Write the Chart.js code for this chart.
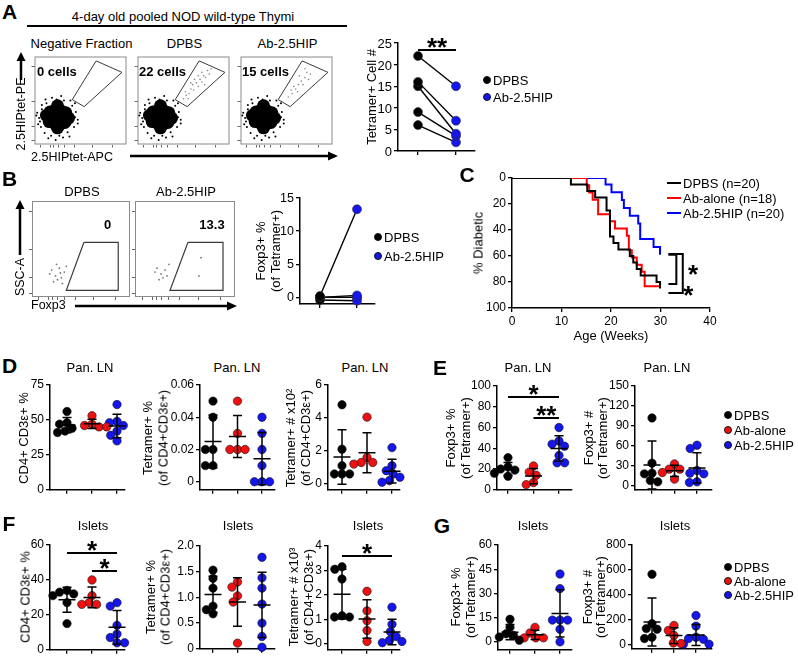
<!DOCTYPE html>
<html><head><meta charset="utf-8"><title>Figure</title>
<script src="https://cdn.jsdelivr.net/npm/chart.js@4.4.1/dist/chart.umd.min.js"></script>
<style>
html,body{margin:0;padding:0;background:#fff;}
#root{position:relative;width:798px;height:664px;overflow:hidden;background:#fff;font-family:"Liberation Sans",Arial,Helvetica,sans-serif;color:#000;}
#root canvas{position:absolute;}
.t{position:absolute;white-space:nowrap;line-height:1;}
#deco{position:absolute;left:0;top:0;}
</style></head>
<body><div id="root"></div>
<script>
/* ================= DATA ================= */
const groups = ['DPBS', 'Ab-alone', 'Ab-2.5HIP'];
const pairGroups = ['DPBS', 'Ab-2.5HIP'];

// Panel A, paired tetramer+ cell numbers
const tetCellDPBS = [22, 16, 15, 9, 6];
const tetCellAb = [15, 7, 4, 3.5, 2];
const tetCellTicks = [0, 5, 10, 15, 20, 25];

// Panel B, paired Foxp3+ % of tetramer+
const foxpPairDPBS = [0.2, 0, -0.4, 0, 0];
const foxpPairAb = [13.3, 0.3, -0.5, 0, 0];
const foxpPairTicks = [0, 5, 10, 15];

// Panel A flow events (display units 0-100)
const flowBlobCore = [[25,31],[18,31],[32,31],[13,33],[37,30],[21,38],[29,38],[22,24],[29,24],[25,44],[25,19],[16,26],[34,36],[17,37],[33,25]];
const flowBlobDots = [[5,30],[7,20],[8,40],[11,13],[13,47],[18,10],[24,51],[27,10],[32,50],[36,14],[41,44],[44,31],[43,20],[3,36],[6,26],[38,9],[19,53],[29,55],[45,37],[4,23],[8,45],[31,8],[47,28],[15,7],[2,33],[39,50],[47,24],[44,47],[12,51],[23,5]];
const gateA = [[67,95],[95,82],[54,43],[41,51],[67,95]];
const gateCellsDPBS = [[50,52],[53,56],[56,58],[58,63],[61,62],[60,68],[64,70],[66,66],[68,74],[70,71],[72,78],[74,76],[70,82],[76,84],[78,80],[66,78],[62,74],[55,52],[52,60],[58,70],[73,68],[80,86]];
const gateCellsAb = [[52,54],[56,58],[60,63],[63,68],[66,72],[70,76],[64,78],[72,82],[58,66],[68,68],[76,80],[62,60],[55,62],[70,86],[74,74]];
const flowTicksX = [7, 17, 21, 26, 33, 44, 63, 85];
const flowTicksY = [4, 20, 49, 89];

// Panel B flow events
const gateB = [[53,57],[88,57],[88,7],[35,7],[53,57]];
const sscDotsDPBS = [[20,28],[24,22],[28,30],[30,20],[26,18],[33,26],[22,16],[18,24],[35,32],[29,25],[25,34],[31,14]];
const sscDotsAb = [[22,30],[26,24],[30,28],[28,20],[34,34],[24,18],[32,22],[20,26]];
const sscGateAb = [[66,41],[64,22]];

// Panel C, cumulative diabetes incidence (%)
const survWeeksDPBS = [0, 11.9, 15.2, 16.8, 19.1, 19.8, 20.5, 21.5, 23.8, 24.5, 25.2, 26, 29.2, 29.9];
const survPctDPBS   = [0, 5, 10, 15, 25, 45, 50, 55, 60, 65, 70, 75, 80, 85];
const survWeeksAlone = [0, 15.1, 15.6, 16.3, 17.4, 19.8, 20.8, 23.2, 23.6, 24.2, 25.2, 26.2, 26.8, 29.8];
const survPctAlone   = [0, 5.6, 11.1, 16.7, 27.8, 33.3, 38.9, 44.4, 55.6, 61.1, 66.7, 72.2, 83.3, 83.3];
const survWeeksHIP = [0, 18.9, 20.1, 22.2, 22.6, 23.8, 25.5, 25.9, 28.6, 29.9];
const survPctHIP   = [0, 5, 11, 17, 23, 29, 35, 47, 53, 59];
const survLabels = ['DPBS (n=20)', 'Ab-alone (n=18)', 'Ab-2.5HIP (n=20)'];
const survXTicks = [0, 10, 20, 30, 40];
const survYTicks = [0, 20, 40, 60, 80, 100];

// Panel D (Pan. LN)
const panCd4 = [[56, 48, 47, 44, 42, 41], [53, 47, 46, 45, 45], [61, 49, 48, 46, 42, 39, 35]];
const panTetPct = [[0.05, 0.04, 0.02, 0.02, 0.01, 0.01], [0.05, 0.03, 0.02, 0.02, 0.02], [0.04, 0.03, 0.02, 0.01, 0, 0, 0]];
const panTetNum = [[4.8, 2.1, 1.1, 0.6, 0.6, 0.6], [4.05, 1.6, 1.3, 1.3, 1.2], [2.2, 1.1, 0.8, 0.6, 0.4, 0.2, 0.1]];
// Panel E (Pan. LN)
const panFoxpPct = [[31, 22, 20, 19, 16, 13], [23, 17, 14, 7, 5], [60, 47, 44, 42, 33, 26, 26]];
const panFoxpNum = [[102, 34, 19, 18, 8, 6], [33, 25, 25, 20, 10], [61, 56, 23, 19, 18, 6, 5]];
// Panel F (Islets)
const isCd4 = [[34, 33, 32, 31, 27, 15], [40, 31, 27, 26, 26], [27, 25, 14, 9, 7, 4, 4]];
const isTetPct = [[1.53, 1.37, 1.18, 0.83, 0.76, 0.68], [1.3, 1.2, 1.03, 0.91, 0.11], [1.78, 1.38, 1.18, 0.87, 0.5, 0.24, 0.03]];
const isTetNum = [[3.15, 3.05, 2.65, 1.15, 1.1, 1.1], [2.15, 1.35, 0.95, 0.55, 0.1], [1.5, 0.8, 0.5, 0.3, 0.15, 0.1, 0.05]];
// Panel G (Islets)
const isFoxpPct = [[14, 9, 5, 4, 3, 1], [9, 5.5, 2.5, 2.5, 2.5], [42, 33, 13.5, 13.5, 13.5, 7.8, 0]];
const isFoxpNum = [[565, 170, 130, 125, 60, 50], [155, 115, 75, 15, 10], [235, 150, 60, 50, 45, 5, 5]];

// y tick values / labels
const ticksCd4Pan = [0, 25, 50, 75];
const ticksTetPctPan = [0, 0.02, 0.04, 0.06];
const labelsTetPctPan = ['0', '0.02', '0.04', '0.06'];
const ticksTetNumPan = [0, 2, 4, 6];
const ticksFoxpPctPan = [0, 20, 40, 60, 80, 100];
const ticksFoxpNumPan = [0, 30, 60, 90, 120, 150];
const ticksCd4Is = [0, 20, 40, 60];
const ticksTetPctIs = [0, 0.5, 1, 1.5, 2];
const labelsTetPctIs = ['0', '0.5', '1.0', '1.5', '2.0'];
const ticksTetNumIs = [0, 1, 2, 3, 4];
const ticksFoxpPctIs = [0, 15, 30, 45, 60];
const ticksFoxpNumIs = [0, 200, 400, 600, 800];

/* ================= STYLE / HELPERS ================= */
const COLORS = ['#000000', '#ee1111', '#1515ee'];
const LINECOLORS = ['#000000', '#ff0000', '#0000ff'];
const FONT = '"Liberation Sans", Arial, Helvetica, sans-serif';
const root = document.getElementById('root');
Chart.defaults.font.family = FONT;
Chart.defaults.color = '#000';

function make(box, m, cfg) {
  const [l, t, r, b] = box;
  const w = (r - l) + m[0] + m[2], h = (b - t) + m[1] + m[3];
  const c = document.createElement('canvas');
  c.width = w; c.height = h;
  c.style.left = (l - m[0]) + 'px'; c.style.top = (t - m[1]) + 'px';
  c.style.width = w + 'px'; c.style.height = h + 'px';
  root.appendChild(c);
  const o = cfg.options = cfg.options || {};
  o.responsive = false; o.maintainAspectRatio = false; o.animation = false;
  o.devicePixelRatio = 1; o.events = [];
  o.layout = { padding: { left: 0, top: m[1], right: m[2], bottom: 0 } };
  o.plugins = Object.assign({ legend: { display: false }, tooltip: { enabled: false }, title: { display: false } }, o.plugins || {});
  o.scales.x.afterFit = s => { s.height = m[3]; };
  o.scales.y.afterFit = s => { s.width = m[0]; };
  const ch = new Chart(c, cfg);
  ch.$origin = [l - m[0], t - m[1]];
  return ch;
}

function axis(pos, min, max, tickVals, labels, size, extra) {
  return Object.assign({
    type: 'linear', position: pos, min: min, max: max,
    afterBuildTicks: s => { s.ticks = tickVals.map(v => ({ value: v })); },
    ticks: { display: !!labels, callback: (v, i) => labels ? labels[i] : '', font: { size: size || 12 }, color: '#000', padding: 2, maxRotation: 0, autoSkip: false },
    grid: { display: true, drawOnChartArea: false, drawTicks: true, tickLength: 4, color: '#000', lineWidth: 1.3 },
    border: { display: true, color: '#000', width: 1.5 }
  }, extra || {});
}

function meanSd(a) {
  const n = a.length, mu = a.reduce((s, v) => s + v, 0) / n;
  const sd = Math.sqrt(a.reduce((s, v) => s + (v - mu) * (v - mu), 0) / (n - 1));
  return [mu, sd];
}

// deterministic beeswarm layout (pixel space)
function swarm(vals, cat, yPx, xPx, D) {
  const order = vals.map((v, i) => i).sort((a, b) => vals[b] - vals[a]);
  const placed = [], out = [];
  order.forEach(i => {
    const y = vals[i] * yPx, ivs = [];
    placed.forEach(p => { const dy = Math.abs(p.y - y); if (dy < D) { const hh = Math.sqrt(D * D - dy * dy); ivs.push([p.x - hh, p.x + hh]); } });
    const cands = [0]; ivs.forEach(iv => cands.push(iv[0], iv[1]));
    cands.sort((a, b) => Math.abs(a) - Math.abs(b));
    const x = cands.find(c => ivs.every(iv => c <= iv[0] + 1e-9 || c >= iv[1] - 1e-9));
    placed.push({ x: x, y: y });
    out.push({ x: cat + x / xPx, y: vals[i] });
  });
  return out;
}

function errPlugin(series) {
  return { id: 'errbars', afterDatasetsDraw(chart) {
    const ctx = chart.ctx, xs = chart.scales.x, ys = chart.scales.y;
    ctx.save(); ctx.strokeStyle = '#000'; ctx.lineWidth = 1.5;
    series.forEach((vals, g) => {
      const [mu, sd] = meanSd(vals), x = xs.getPixelForValue(g);
      const y0 = ys.getPixelForValue(mu), y1 = ys.getPixelForValue(mu + sd), y2 = ys.getPixelForValue(mu - sd);
      ctx.beginPath();
      ctx.moveTo(x - 8.5, y0); ctx.lineTo(x + 8.5, y0);
      ctx.moveTo(x, y1); ctx.lineTo(x, y2);
      ctx.moveTo(x - 4.5, y1); ctx.lineTo(x + 4.5, y1);
      ctx.moveTo(x - 4.5, y2); ctx.lineTo(x + 4.5, y2);
      ctx.stroke();
    });
    ctx.restore();
  } };
}

function sigPlugin(list) {
  return { id: 'sig', afterDatasetsDraw(chart) {
    if (!list || !list.length) return;
    const ctx = chart.ctx, xs = chart.scales.x, ys = chart.scales.y;
    ctx.save(); ctx.strokeStyle = '#000'; ctx.fillStyle = '#000'; ctx.lineWidth = 2;
    ctx.font = 'bold 26px ' + FONT; ctx.textAlign = 'center'; ctx.textBaseline = 'alphabetic';
    list.forEach(s => {
      const x1 = xs.getPixelForValue(s[0]), x2 = xs.getPixelForValue(s[1]), y = Math.round(ys.getPixelForValue(s[2]));
      ctx.beginPath(); ctx.moveTo(x1, y); ctx.lineTo(x2, y); ctx.stroke();
      ctx.fillText(s[3], (x1 + x2) / 2, y + 6);
    });
    ctx.restore();
  } };
}

function dotPlot(box, cats, yMin, yMax, tickVals, tickLabels, series, sig) {
  const [l, t, r, b] = box;
  const xPx = (cats[2] - cats[0]) / 2;
  const xMin = -(cats[0] - l) / xPx, xMax = 2 + (r - cats[2]) / xPx;
  const yPx = (b - t) / (yMax - yMin);
  const datasets = series.map((vals, g) => ({
    label: groups[g], data: swarm(vals, g, yPx, xPx, 7.6),
    pointRadius: 4.2, pointBackgroundColor: COLORS[g], pointBorderColor: '#111', pointBorderWidth: 0.6,
    showLine: false, clip: false
  }));
  return make(box, [36, 16, 8, 8], {
    type: 'scatter', data: { datasets: datasets },
    options: { scales: {
      x: axis('bottom', xMin, xMax, [0, 1, 2], null),
      y: axis('left', yMin, yMax, tickVals, tickLabels || tickVals.map(String), 12)
    } },
    plugins: [errPlugin(series), sigPlugin(sig)]
  });
}

// paired before/after plot; y title drawn by Chart.js, tick labels placed from the chart's y scale
function pairedPlot(box, cats, yMin, yMax, tickVals, left, right, tickSize, sig, title, marginL, titlePad) {
  const xPx = cats[1] - cats[0];
  const xMin = -(cats[0] - box[0]) / xPx, xMax = 1 + (box[2] - cats[1]) / xPx;
  const datasets = left.map((v, i) => ({
    label: 'pair ' + (i + 1), data: [{ x: 0, y: v }, { x: 1, y: right[i] }],
    showLine: true, borderColor: '#000', borderWidth: 1.4,
    pointRadius: 4.5, pointBackgroundColor: [COLORS[0], COLORS[2]], pointBorderColor: '#333', pointBorderWidth: 0.6, clip: false
  }));
  const ch = make(box, [marginL, 14, 8, 8], {
    type: 'scatter', data: { datasets: datasets },
    options: { scales: {
      x: axis('bottom', xMin, xMax, [0, 1], null),
      y: axis('left', yMin, yMax, tickVals, null, tickSize, {
        title: { display: true, text: title, color: '#000', font: { size: 13, lineHeight: 1.2 }, padding: { top: titlePad, bottom: 0 } }
      })
    } },
    plugins: [sigPlugin(sig)]
  });
  const ys = ch.scales.y;
  ys.ticks.forEach(tk => {
    T(String(tk.value), ch.$origin[0] + ys.right - 6, ch.$origin[1] + ys.getPixelForValue(tk.value), { size: tickSize, align: 'right' });
  });
  return ch;
}

const framePlugin = { id: 'frame', beforeDatasetsDraw(chart) {
  const a = chart.chartArea, ctx = chart.ctx;
  ctx.save(); ctx.strokeStyle = '#8a8a8a'; ctx.lineWidth = 1;
  ctx.strokeRect(a.left + 0.5, a.top + 0.5, a.right - a.left - 1, a.bottom - a.top - 1);
  ctx.restore();
} };

function flowAxis(pos, ticks) {
  return {
    type: 'linear', position: pos, min: 0, max: 100,
    afterBuildTicks: s => { s.ticks = ticks.map(v => ({ value: v })); },
    ticks: { display: false },
    grid: { display: true, drawOnChartArea: false, drawTicks: true, tickLength: 3, color: '#666', lineWidth: 1 },
    border: { display: false }
  };
}
const pts = arr => arr.map(p => ({ x: p[0], y: p[1] }));

function flowPlot(box, datasets) {
  return make(box, [4, 2, 2, 4], {
    type: 'scatter', data: { datasets: datasets },
    options: { scales: { x: flowAxis('bottom', flowTicksX), y: flowAxis('left', flowTicksY) } },
    plugins: [framePlugin]
  });
}
function blobSets(gateCells) {
  const s = [
    { label: 'gate', data: pts(gateA), showLine: true, borderColor: '#3a3a3a', borderWidth: 1, pointRadius: 0, clip: false },
    { label: 'core', data: pts(flowBlobCore), pointRadius: 6.5, pointBackgroundColor: '#000', pointBorderWidth: 0, clip: false },
    { label: 'events', data: pts(flowBlobDots), pointRadius: 1, pointBackgroundColor: '#000', pointBorderWidth: 0, clip: false }
  ];
  if (gateCells) s.push({ label: 'gated', data: pts(gateCells), pointRadius: 0.8, pointBackgroundColor: '#888', pointBorderWidth: 0 });
  return s;
}
function sscSets(dots, gated) {
  const s = [
    { label: 'gate', data: pts(gateB), showLine: true, borderColor: '#3a3a3a', borderWidth: 1.2, pointRadius: 0, clip: false },
    { label: 'events', data: pts(dots), pointRadius: 0.9, pointBackgroundColor: '#777', pointBorderWidth: 0 }
  ];
  if (gated) s.push({ label: 'gated', data: pts(gated), pointRadius: 0.9, pointBackgroundColor: '#777', pointBorderWidth: 0 });
  return s;
}

/* ================= TEXT HELPERS ================= */
function T(s, x, y, o) {
  o = o || {};
  const d = document.createElement('div'); d.className = 't'; d.textContent = s;
  d.style.left = x + 'px'; d.style.top = y + 'px';
  d.style.fontSize = (o.size || 13) + 'px';
  if (o.bold) d.style.fontWeight = 'bold';
  let tr = o.align === 'left' ? 'translate(0,-50%)' : (o.align === 'right' ? 'translate(-100%,-50%)' : 'translate(-50%,-50%)');
  if (o.rot) tr += ' rotate(-90deg)';
  d.style.transform = tr;
  root.appendChild(d);
  return d;
}
function dotMark(x, y, color) {
  const d = document.createElement('div');
  d.style.cssText = 'position:absolute;left:' + (x - 4) + 'px;top:' + (y - 4) + 'px;width:8px;height:8px;border-radius:50%;box-sizing:border-box;border:0.6px solid #111;background:' + color;
  root.appendChild(d);
}
function dotLegend(x, ys, names, colorIdx) {
  names.forEach((n, i) => { dotMark(x, ys[i], COLORS[colorIdx[i]]); T(n, x + 6, ys[i], { align: 'left' }); });
}

/* ================= DECORATION (lines / arrows) ================= */
root.insertAdjacentHTML('beforeend',
 '<svg id="deco" width="798" height="664">' +
 '<line x1="27" y1="26" x2="347" y2="26" stroke="#000" stroke-width="2"/>' +
 '<line x1="130" y1="156" x2="330" y2="156" stroke="#000" stroke-width="2.5"/>' +
 '<polygon points="338,156 328,151.5 328,160.5" fill="#000"/>' +
 '<line x1="21" y1="80" x2="21" y2="59" stroke="#000" stroke-width="2.5"/>' +
 '<polygon points="21,52 16.5,61 25.5,61" fill="#000"/>' +
 '<line x1="20" y1="255" x2="20" y2="208" stroke="#000" stroke-width="2.5"/>' +
 '<polygon points="20,200 15.5,209 24.5,209" fill="#000"/>' +
 '<line x1="75" y1="306" x2="229" y2="306" stroke="#000" stroke-width="2.5"/>' +
 '<polygon points="237,306 227,301.5 227,310.5" fill="#000"/>' +
 '<line x1="667" y1="183" x2="681" y2="183" stroke="#000" stroke-width="2"/>' +
 '<line x1="667" y1="198" x2="681" y2="198" stroke="#ff0000" stroke-width="2"/>' +
 '<line x1="667" y1="213" x2="681" y2="213" stroke="#0000ff" stroke-width="2"/>' +
 '</svg>');

/* ================= PANEL A ================= */
T('A', 9.5, 10.5, { size: 21, bold: true });
T('4-day old pooled NOD wild-type Thymi', 183, 16);
T('Negative Fraction', 81.5, 43); T('DPBS', 184.5, 43); T('Ab-2.5HIP', 287.5, 43);
flowPlot([32, 52, 131, 147], blobSets(null));
flowPlot([135, 52, 234, 147], blobSets(gateCellsDPBS));
flowPlot([238, 52, 337, 147], blobSets(gateCellsAb));
T('0 cells', 37, 71, { bold: true, align: 'left' });
T('22 cells', 139, 71, { bold: true, align: 'left' });
T('15 cells', 242, 71, { bold: true, align: 'left' });
T('2.5HIPtet-PE', 21, 114, { size: 12.5, rot: true });
T('2.5HIPtet-APC', 31, 157, { size: 12.5, align: 'left' });

pairedPlot([398, 43, 475, 151], [418, 456], 0, 25, tetCellTicks, tetCellDPBS, tetCellAb, 13, [[0, 1, 23.4, '**']],
  'Tetramer+ Cell #', 40, 6.2);
dotLegend(487, [80, 97], pairGroups, [0, 2]);

/* ================= PANEL B ================= */
T('B', 9.5, 177.5, { size: 21, bold: true });
T('DPBS', 82, 191); T('Ab-2.5HIP', 186, 191);
flowPlot([32, 199, 132, 297], sscSets(sscDotsDPBS, null));
flowPlot([135, 199, 237, 297], sscSets(sscDotsAb, sscGateAb));
T('0', 107.5, 223.5, { bold: true });
T('13.3', 212, 223.5, { bold: true });
T('SSC-A', 20, 277, { size: 12.5, rot: true });
T('Foxp3', 31, 305, { size: 12.5, align: 'left' });

pairedPlot([300, 198, 375, 304], [320, 357], -1, 15, foxpPairTicks, foxpPairDPBS, foxpPairAb, 12.5, [],
  ['Foxp3+ %', '(of Tetramer+)'], 48, 1.2);
dotLegend(378, [237, 256], pairGroups, [0, 2]);

/* ================= PANEL C ================= */
T('C', 467, 174, { size: 21, bold: true });
const survSets = [[survWeeksDPBS, survPctDPBS], [survWeeksAlone, survPctAlone], [survWeeksHIP, survPctHIP]].map((s, g) => ({
  label: survLabels[g], data: s[0].map((w, i) => ({ x: w, y: s[1][i] })),
  stepped: true, borderColor: LINECOLORS[g], borderWidth: 2, pointRadius: 0, fill: false
}));
const cBrackets = [[33.2, 59, 81.5], [34.5, 58.5, 88.5]];
const cBracketLeft = 31.6;
const cStars = [[36.6, 69.5], [35.6, 86]];
const bracketPlugin = { id: 'brackets', afterDatasetsDraw(chart) {
  const ctx = chart.ctx, xs = chart.scales.x, ys = chart.scales.y;
  ctx.save(); ctx.strokeStyle = '#000'; ctx.lineWidth = 2; ctx.fillStyle = '#000';
  const xl = xs.getPixelForValue(cBracketLeft);
  cBrackets.forEach(b => {
    const x = xs.getPixelForValue(b[0]), y1 = ys.getPixelForValue(b[1]), y2 = ys.getPixelForValue(b[2]);
    ctx.beginPath(); ctx.moveTo(xl, y1); ctx.lineTo(x, y1); ctx.lineTo(x, y2); ctx.lineTo(xl, y2); ctx.stroke();
  });
  ctx.font = 'bold 26px ' + FONT; ctx.textAlign = 'center'; ctx.textBaseline = 'alphabetic';
  cStars.forEach(s => ctx.fillText('*', xs.getPixelForValue(s[0]), ys.getPixelForValue(s[1]) + 14.5));
  ctx.restore();
} };
make([512, 178, 710, 308], [40, 10, 12, 20], {
  type: 'line', data: { datasets: survSets },
  options: { scales: {
    x: axis('bottom', 0, 40, survXTicks, survXTicks.map(String), 12),
    y: axis('left', 0, 100, survYTicks, survYTicks.map(String), 12, { reverse: true })
  } },
  plugins: [bracketPlugin]
});
T('% Diabetic', 478, 243, { rot: true });
T('Age (Weeks)', 611, 335);
survLabels.forEach((s, i) => T(s, 683, 183 + 15 * i, { align: 'left' }));

/* ================= PANEL D ================= */
T('D', 9.5, 364.5, { size: 21, bold: true });
T('Pan. LN', 90, 367); T('Pan. LN', 237, 367); T('Pan. LN', 365, 367);
dotPlot([50, 385, 125, 491], [67, 92, 117], 0, 75, ticksCd4Pan, null, panCd4, []);
dotPlot([200, 385, 275, 491], [213, 238, 262], -0.005, 0.06, ticksTetPctPan, labelsTetPctPan, panTetPct, []);
dotPlot([328, 385, 400, 491], [342, 367, 392], -0.36, 6, ticksTetNumPan, null, panTetNum, []);
T('CD4+ CD3\u03b5+ %', 23, 438, { rot: true });
T('Tetramer+ %', 147, 438, { rot: true }); T('(of CD4+CD3\u03b5+)', 163, 438, { rot: true });
T('Tetramer+ # x10\u00b2', 290, 438, { rot: true }); T('(of CD4+CD3\u03b5+)', 305, 438, { rot: true });

/* ================= PANEL E ================= */
T('E', 440, 366.5, { size: 21, bold: true });
T('Pan. LN', 528, 367); T('Pan. LN', 667, 367);
dotPlot([497, 386, 572, 491], [508, 533, 559], 0, 100, ticksFoxpPctPan, null, panFoxpPct, [[0, 2, 89.5, '*'], [1, 2, 69.5, '**']]);
dotPlot([635, 386, 712, 491], [652, 674, 697], -6, 150, ticksFoxpNumPan, null, panFoxpNum, []);
T('Foxp3+ %', 450, 438, { rot: true }); T('(of Tetramer+)', 465, 438, { rot: true });
T('Foxp3+ #', 588, 438, { rot: true }); T('(of Tetramer+)', 602, 438, { rot: true });
dotLegend(728, [415, 430, 445], groups, [0, 1, 2]);

/* ================= PANEL F ================= */
T('F', 9, 522.5, { size: 21, bold: true });
T('Islets', 93, 525); T('Islets', 238, 525); T('Islets', 368, 525);
dotPlot([50, 545, 125, 651], [67, 92, 117], 0, 60, ticksCd4Is, null, isCd4, [[0, 2, 55.5, '*'], [1, 2, 45.3, '*']]);
dotPlot([200, 546, 275, 650], [213, 238, 262], 0, 2, ticksTetPctIs, labelsTetPctIs, isTetPct, []);
dotPlot([328, 546, 400, 651], [342, 367, 392], -0.24, 4, ticksTetNumIs, null, isTetNum, [[0, 2, 3.6, '*']]);
T('CD4+ CD3\u03b5+ %', 25, 597, { rot: true });
T('Tetramer+ %', 150, 597, { rot: true }); T('(of CD4+CD3\u03b5+)', 165, 597, { rot: true });
T('Tetramer+ # x10\u00b3', 293, 597, { rot: true }); T('(of CD4+CD3\u03b5+)', 308, 597, { rot: true });

/* ================= PANEL G ================= */
T('G', 442, 524.5, { size: 21, bold: true });
T('Islets', 533, 525); T('Islets', 675, 525);
dotPlot([498, 545, 572, 651], [510, 535, 560], -4.9, 60, ticksFoxpPctIs, null, isFoxpPct, []);
dotPlot([632, 545, 712, 650], [652, 673, 696], -32, 800, ticksFoxpNumIs, null, isFoxpNum, []);
T('Foxp3+ %', 455, 597, { rot: true }); T('(of Tetramer+)', 470, 597, { rot: true });
T('Foxp3+ #', 587, 597, { rot: true }); T('(of Tetramer+)', 600, 597, { rot: true });
dotLegend(728, [567, 581, 595], groups, [0, 1, 2]);
</script>
</body></html>
